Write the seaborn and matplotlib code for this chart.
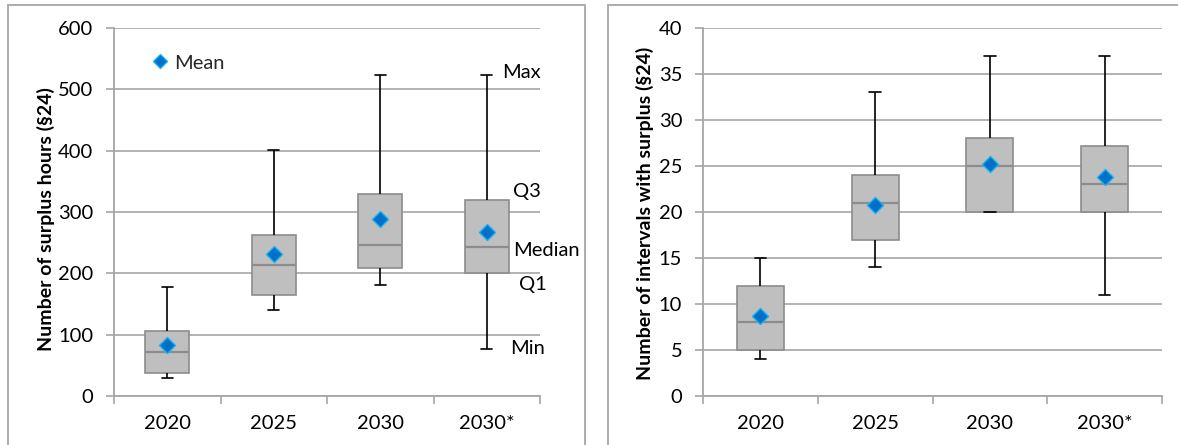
import matplotlib
matplotlib.use("Agg")
import matplotlib.pyplot as plt
from matplotlib.lines import Line2D
from matplotlib.patches import Rectangle
import numpy as np
import pandas as pd
import seaborn as sns

# ---- data -------------------------------------------------------------
categories = ["2020", "2025", "2030", "2030*"]

# surplus hours (§24): five-number summary and mean per scenario year
hours_min = [30, 141, 181, 77]
hours_q1 = [38, 165, 209, 200]
hours_median = [72, 214, 246, 243]
hours_q3 = [106, 263, 329, 320]
hours_max = [177, 401, 523, 523]
hours_mean = [83, 232, 288, 267]

# intervals with surplus (§24): five-number summary and mean per scenario year
intervals_min = [4, 14, 20, 11]
intervals_q1 = [5, 17, 20, 20]
intervals_median = [8, 21, 25, 23]
intervals_q3 = [12, 24, 28, 27.2]
intervals_max = [15, 33, 37, 37]
intervals_mean = [8.7, 20.8, 25.2, 23.8]

# labels for the parts of the last box
part_labels = ["Max", "Q3", "Median", "Q1", "Min"]

# ---- style ------------------------------------------------------------
sns.set_theme(style="white")
plt.rcParams["font.family"] = ["Lato", "DejaVu Sans"]

GRID = "#A6A6A6"
BOX_FILL = "#BFBFBF"
BOX_EDGE = "#8C8C8C"
MEAN_FILL = "#0070C8"
MEAN_EDGE = "#19B2F0"
TICK_FS = 14.5
LABEL_FS = 14


def summary_frame(mins, q1s, meds, q3s, maxs):
    # five points per category whose linear quartiles are exactly the summary
    rows = []
    for cat, vals in zip(categories, zip(mins, q1s, meds, q3s, maxs)):
        for v in vals:
            rows.append({"year": cat, "value": v})
    return pd.DataFrame(rows)


def draw_panel(ax, df, means, ymax, ystep, ylabel):
    sns.boxplot(
        data=df, x="year", y="value", order=categories, ax=ax,
        whis=(0, 100), width=0.41, color=BOX_FILL, linecolor=BOX_EDGE,
        linewidth=1.2, saturation=1, showfliers=False, capwidths=0.1,
        boxprops={"facecolor": BOX_FILL, "edgecolor": BOX_EDGE, "linewidth": 1.2},
        medianprops={"color": BOX_EDGE, "linewidth": 1.6},
        whiskerprops={"color": "black", "linewidth": 1.2},
        capprops={"color": "black", "linewidth": 1.2},
        zorder=3,
    )
    sns.stripplot(
        x=categories, y=means, order=categories, ax=ax, jitter=False,
        marker="D", s=8.2, color=MEAN_FILL, edgecolor=MEAN_EDGE,
        linewidth=1.0, zorder=5,
    )
    ax.set_xlim(-0.5, len(categories) - 0.5)
    ax.set_ylim(0, ymax)
    ax.set_yticks(np.arange(0, ymax + ystep / 2, ystep))
    ax.yaxis.grid(True, color=GRID, linewidth=1.2)
    ax.xaxis.grid(False)
    ax.set_axisbelow(True)
    for side in ("top", "right"):
        ax.spines[side].set_visible(False)
    for side in ("left", "bottom"):
        ax.spines[side].set_color(GRID)
        ax.spines[side].set_linewidth(1.3)
    ax.tick_params(axis="y", which="major", length=6, width=1.2, color=GRID,
                   pad=9, labelsize=TICK_FS, labelcolor="black", left=True)
    ax.tick_params(axis="x", which="major", length=0, pad=14,
                   labelsize=TICK_FS, labelcolor="black")
    ax.set_xticks(np.arange(-0.5, len(categories)), minor=True)
    ax.tick_params(axis="x", which="minor", length=6, width=1.2, color=GRID,
                   bottom=True)
    ax.set_xlabel("")
    ax.set_ylabel(ylabel, fontsize=LABEL_FS, fontweight="bold", color="black")


fig = plt.figure(figsize=(11.78, 4.45), dpi=100)
W, H = 1178, 445

ax1 = fig.add_axes([114 / W, 1 - 396 / H, 426 / W, 368 / H])
ax2 = fig.add_axes([703 / W, 1 - 396 / H, 459 / W, 368 / H])

draw_panel(ax1, summary_frame(hours_min, hours_q1, hours_median, hours_q3, hours_max),
           hours_mean, 600, 100, "Number of surplus hours (§24)")
draw_panel(ax2, summary_frame(intervals_min, intervals_q1, intervals_median,
                              intervals_q3, intervals_max),
           intervals_mean, 40, 5, "Number of intervals with surplus (§24)")

ax1.yaxis.set_label_coords(-0.138, 0.48)
ax2.yaxis.set_label_coords(-0.107, 0.497)

# labels naming the parts of the last box
label_pos = [(3.14, 528), (3.25, 333), (3.25, 237), (3.30, 181), (3.22, 78)]
for text, (xp, yp) in zip(part_labels, label_pos):
    ax1.text(xp, yp, text, fontsize=TICK_FS, ha="left", va="center",
             color="black", clip_on=False)

# legend for the mean markers
mean_handle = Line2D([], [], marker="D", linestyle="", markersize=7.5,
                     markerfacecolor=MEAN_FILL, markeredgecolor=MEAN_EDGE,
                     markeredgewidth=1.0)
ax1.legend([mean_handle], ["Mean"], loc="center left",
           bbox_to_anchor=(0.07, 0.905), frameon=False, fontsize=TICK_FS,
           handlelength=0.8, handletextpad=0.3, borderaxespad=0)

# chart frames
fig.patches.append(Rectangle((8 / W, -0.1), (585 - 8) / W, 1.1 - 5.3 / H,
                             transform=fig.transFigure, fill=False,
                             edgecolor=GRID, linewidth=1.3))
fig.patches.append(Rectangle((608 / W, -0.1), 0.6, 1.1 - 5.3 / H,
                             transform=fig.transFigure, fill=False,
                             edgecolor=GRID, linewidth=1.3))

fig.savefig("out.png", dpi=100, facecolor="white")
